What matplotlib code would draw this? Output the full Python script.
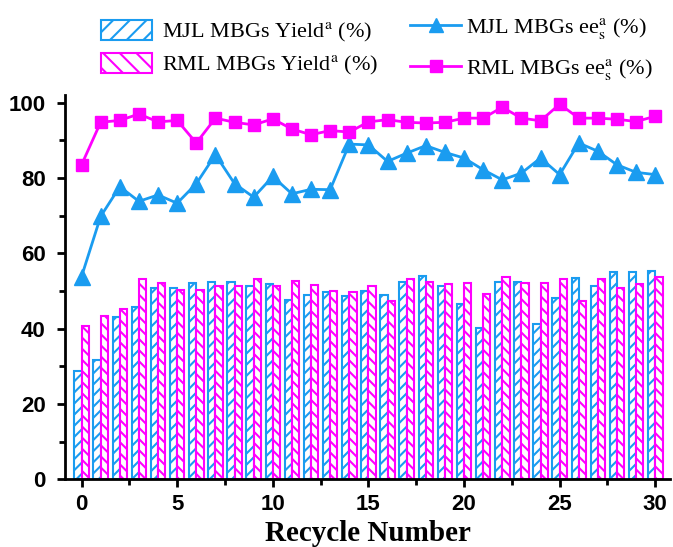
import matplotlib
matplotlib.use('Agg')
import matplotlib.pyplot as plt
import numpy as np
from matplotlib.patches import Patch
from matplotlib.lines import Line2D

plt.rcParams['mathtext.fontset'] = 'stix'
plt.rcParams['hatch.linewidth'] = 1.5

# recycle number 0..30
cycles = list(range(31))

mjl_yield = [28.7, 31.6, 43.2, 45.7, 50.9, 50.9, 52.2, 52.3, 52.4, 51.4,
             51.9, 47.6, 48.8, 49.8, 48.6, 50.1, 49.0, 52.5, 54.1, 51.2,
             46.6, 40.1, 52.5, 52.5, 41.1, 48.2, 53.4, 51.3, 55.1, 55.1, 55.2]
rml_yield = [40.8, 43.4, 45.1, 53.2, 52.0, 50.3, 50.3, 51.4, 51.2, 53.2,
             51.4, 52.7, 51.6, 50.1, 49.6, 51.3, 47.3, 53.1, 52.3, 51.9,
             52.0, 49.3, 53.6, 52.0, 52.2, 53.1, 47.4, 53.3, 50.8, 51.9, 53.8]
mjl_ee = [53.8, 69.8, 77.7, 73.8, 75.5, 73.3, 78.5, 86.2, 78.5, 74.9,
          80.4, 75.8, 77.0, 76.9, 89.0, 88.8, 84.4, 86.6, 88.6, 86.8,
          85.3, 82.2, 79.5, 81.3, 85.3, 80.9, 89.3, 87.1, 83.5, 81.5, 80.9]
rml_ee = [83.5, 94.8, 95.3, 97.0, 94.9, 95.3, 89.3, 95.9, 94.8, 94.1,
          95.7, 93.0, 91.5, 92.6, 92.2, 94.9, 95.5, 94.8, 94.6, 94.8,
          95.9, 95.9, 98.8, 95.9, 95.2, 99.6, 95.9, 95.9, 95.6, 95.0, 96.4]

blue = '#1a9cf0'
pink = '#ff00ff'

fig = plt.figure(figsize=(6.73, 5.47), dpi=100)
ax = fig.add_axes([0.097, 0.124, 0.898, 0.702])

x = np.array(cycles)
w = 0.38
ax.bar(x - w / 2, mjl_yield, width=w, facecolor='white', edgecolor=blue,
       hatch='///', linewidth=1.5)
ax.bar(x + w / 2, rml_yield, width=w, facecolor='white', edgecolor=pink,
       hatch='\\\\\\', linewidth=1.5)
ax.plot(x, mjl_ee, color=blue, marker='^', markersize=11, linewidth=2)
ax.plot(x, rml_ee, color=pink, marker='s', markersize=8.5, linewidth=2)

ax.set_xlim(-0.85, 30.75)
ax.set_ylim(0, 102)
ax.set_xticks([0, 5, 10, 15, 20, 25, 30])
ax.set_xticks(np.arange(2.5, 30, 5), minor=True)
ax.set_yticks([0, 20, 40, 60, 80, 100])
ax.set_yticks([10, 30, 50, 70, 90], minor=True)
ax.spines['top'].set_visible(False)
ax.spines['right'].set_visible(False)
for s in ['left', 'bottom']:
    ax.spines[s].set_linewidth(2)
ax.tick_params(which='major', direction='out', length=6, width=2, labelsize=16)
ax.tick_params(axis='y', which='major', pad=8)
ax.tick_params(axis='x', which='major', pad=5)
ax.tick_params(which='minor', direction='out', length=4, width=2)
for lab in ax.get_xticklabels() + ax.get_yticklabels():
    lab.set_fontfamily('Liberation Sans')
    lab.set_fontweight('bold')
ax.set_xlabel('Recycle Number', fontfamily='Liberation Serif',
              fontweight='bold', fontsize=21, labelpad=3)

bar_handles = [Patch(facecolor='white', edgecolor=blue, hatch='//', linewidth=1.5),
               Patch(facecolor='white', edgecolor=pink, hatch='\\\\', linewidth=1.5)]
bar_labels = ['MJL MBGs Yield$^{\\mathrm{a}}$ (%)', 'RML MBGs Yield$^{\\mathrm{a}}$ (%)']
fig.legend(bar_handles, bar_labels, loc='upper left',
           bbox_to_anchor=(0.12, 1.0), frameon=False,
           prop={'family': 'Liberation Serif', 'size': 16},
           handlelength=2.3, handleheight=1.0, labelspacing=0.4,
           handletextpad=0.45)
line_handles = [Line2D([], [], color=blue, marker='^', markersize=10, linewidth=2),
                Line2D([], [], color=pink, marker='s', markersize=8, linewidth=2)]
line_labels = ['MJL MBGs ee$_{\\mathrm{s}}^{\\mathrm{a}}$ (%)',
               'RML MBGs ee$_{\\mathrm{s}}^{\\mathrm{a}}$ (%)']
fig.legend(line_handles, line_labels, loc='upper left',
           bbox_to_anchor=(0.58, 1.008), frameon=False,
           prop={'family': 'Liberation Serif', 'size': 16},
           handlelength=2.3, labelspacing=0.74, handletextpad=0.2)

fig.savefig('out.png', dpi=100)
